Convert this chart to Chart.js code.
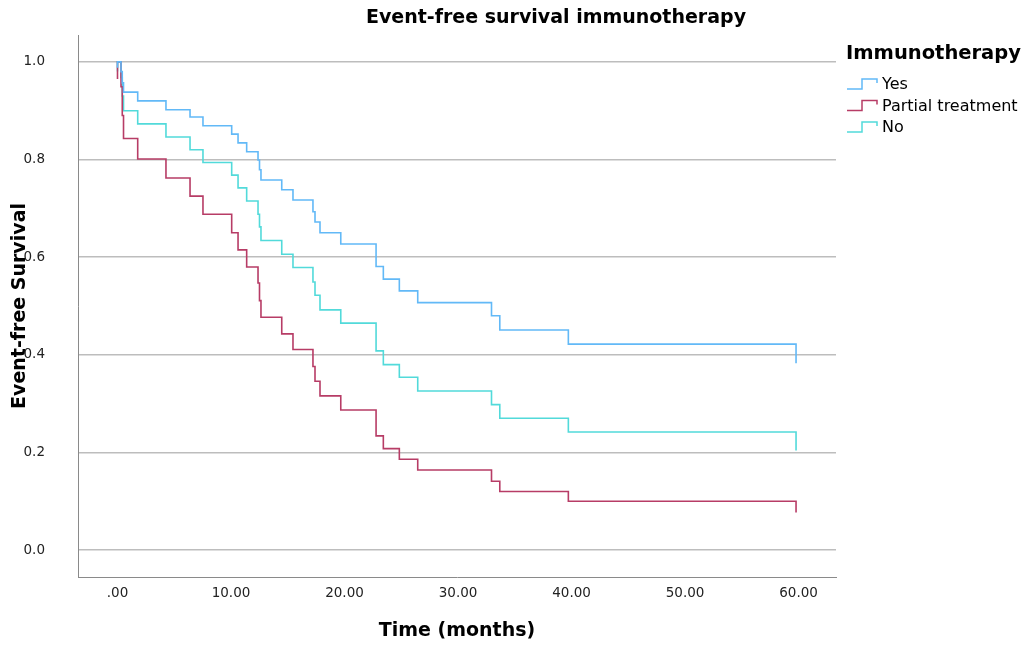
<!DOCTYPE html>
<html>
<head>
<meta charset="utf-8">
<title>Event-free survival immunotherapy</title>
<script src="https://cdn.jsdelivr.net/npm/chart.js@4.4.1/dist/chart.umd.min.js"></script>
<style>
  html, body { margin: 0; padding: 0; background: #fff; }
  #wrap { width: 1025px; height: 648px; }
</style>
</head>
<body>
<div id="wrap"><canvas id="kmChart" width="1025" height="648"></canvas></div>
<script>
// event times (months) shared by the three adjusted survival curves
const months = [0, 0, 0.31, 0.42, 0.53, 1.78, 4.27, 6.39, 7.53, 10.06, 10.62, 11.38, 12.38, 12.51, 12.64,
  14.47, 15.46, 17.22, 17.40, 17.84, 19.67, 22.78, 23.42, 24.83, 26.45, 32.95, 33.68, 39.72, 59.78];

const survYes = [0.988, 1, 0.980, 0.957, 0.938, 0.920, 0.902, 0.887, 0.869, 0.852, 0.834, 0.816, 0.799, 0.779, 0.758,
  0.738, 0.717, 0.693, 0.672, 0.650, 0.627, 0.581, 0.555, 0.531, 0.507, 0.480, 0.451, 0.422, 0.383];
const survPartial = [0.965, 1, 0.949, 0.890, 0.843, 0.801, 0.762, 0.725, 0.688, 0.650, 0.615, 0.580, 0.547, 0.511, 0.477,
  0.443, 0.411, 0.376, 0.346, 0.316, 0.287, 0.234, 0.208, 0.186, 0.164, 0.141, 0.120, 0.100, 0.077];
const survNo = [0.980, 1, 0.968, 0.930, 0.900, 0.873, 0.846, 0.820, 0.794, 0.768, 0.742, 0.715, 0.688, 0.662, 0.634,
  0.606, 0.579, 0.549, 0.522, 0.492, 0.465, 0.408, 0.380, 0.354, 0.326, 0.298, 0.270, 0.242, 0.204];

const groupNames = ['Yes', 'Partial treatment', 'No'];
const groupColors = ['#62b9f7', '#b73c66', '#52dada'];
const xTicks = [0, 10, 20, 30, 40, 50, 60];
const yTicks = [0, 0.2, 0.4, 0.6, 0.8, 1.0];

const chartTitle = 'Event-free survival immunotherapy';
const legendTitle = 'Immunotherapy';
const FONT = '"DejaVu Sans", "Liberation Sans", sans-serif';

const toPoints = (vals) => vals.map((v, i) => ({ x: months[i], y: v }));
const series = [survYes, survPartial, survNo];

// title and the step-icon legend are painted on top of the chart
const overlay = {
  id: 'overlay',
  afterDraw(chart) {
    const ctx = chart.ctx;
    ctx.save();
    ctx.fillStyle = '#000';
    ctx.textBaseline = 'middle';
    ctx.textAlign = 'center';
    ctx.font = 'bold 19px ' + FONT;
    ctx.fillText(chartTitle, 556, 18);

    ctx.textAlign = 'left';
    ctx.font = 'bold 19.5px ' + FONT;
    ctx.fillText(legendTitle, 846, 54);

    ctx.font = '16px ' + FONT;
    groupNames.forEach((name, i) => {
      const y = 84 + i * 21.5;
      ctx.strokeStyle = groupColors[i];
      ctx.lineWidth = 1.5;
      ctx.beginPath();
      ctx.moveTo(847, y + 5);
      ctx.lineTo(862, y + 5);
      ctx.lineTo(862, y - 5);
      ctx.lineTo(877, y - 5);
      ctx.lineTo(877, y - 1);
      ctx.stroke();
      ctx.fillStyle = '#000';
      ctx.fillText(name, 882, y + 1);
    });
    ctx.restore();
  }
};

new Chart(document.getElementById('kmChart'), {
  type: 'line',
  data: {
    datasets: series.map((vals, i) => ({
      label: groupNames[i],
      data: toPoints(vals),
      borderColor: groupColors[i],
      borderWidth: 1.6,
      pointRadius: 0,
      fill: false,
      stepped: 'before',
      tension: 0
    }))
  },
  options: {
    responsive: false,
    animation: false,
    events: [],
    layout: { padding: { left: 0, top: 35, right: 189, bottom: 0 } },
    plugins: {
      legend: { display: false },
      title: { display: false },
      tooltip: { enabled: false }
    },
    scales: {
      x: {
        type: 'linear',
        min: -3.48,
        max: 63.3,
        afterBuildTicks: (scale) => { scale.ticks = xTicks.map(v => ({ value: v })); },
        afterFit: (scale) => { scale.height = 71; },
        ticks: {
          padding: 8,
          color: '#222',
          font: { family: FONT, size: 13.5 },
          maxRotation: 0,
          callback: (v) => v === 0 ? '.00' : v.toFixed(2)
        },
        grid: { display: false, drawTicks: false },
        border: { display: true, color: '#8a8a8a', width: 1 },
        title: {
          display: true,
          text: 'Time (months)',
          color: '#000',
          font: { family: FONT, size: 19, weight: 'bold' },
          padding: { top: 6, bottom: 6 }
        }
      },
      y: {
        type: 'linear',
        min: -0.055,
        max: 1.055,
        afterBuildTicks: (scale) => { scale.ticks = yTicks.map(v => ({ value: v })); },
        // the wide label gap would otherwise push the plot top down
        afterFit: (scale) => { scale.width = 78; scale.paddingTop = 8; scale.paddingBottom = 8; },
        ticks: {
          padding: 33,
          color: '#222',
          font: { family: FONT, size: 13.5 },
          callback: (v) => v.toFixed(1)
        },
        grid: { color: '#bdbdbd', lineWidth: 1.5, drawTicks: false },
        border: { display: true, color: '#8a8a8a', width: 1 },
        title: {
          display: true,
          text: 'Event-free Survival',
          color: '#000',
          font: { family: FONT, size: 19, weight: 'bold' },
          padding: { top: 9, bottom: 9 }
        }
      }
    }
  },
  plugins: [overlay]
});
</script>
</body>
</html>
